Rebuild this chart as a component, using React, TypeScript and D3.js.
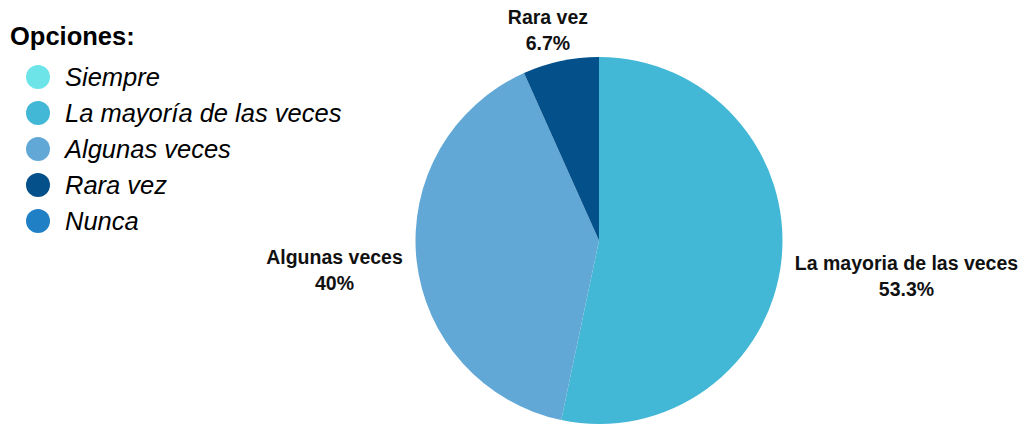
import React from "react";
import * as d3 from "d3";

const categories = ["Siempre", "La mayoría de las veces", "Algunas veces", "Rara vez", "Nunca"];
const labelNames = ["Siempre", "La mayoria de las veces", "Algunas veces", "Rara vez", "Nunca"];
const values = [0, 53.3, 40, 6.7, 0];
const valueLabels = ["0%", "53.3%", "40%", "6.7%", "0%"];
const colors = ["#6de4e8", "#43b7d6", "#62a8d7", "#03508a", "#1f80c5"];

const W = 1027;
const H = 426;
const cx = 599;
const cy = 240.5;
const R = 183.5;

export default function App() {
  const pie = d3.pie<number>().sort(null).value((d) => d);
  const arcs = pie(values);
  const arc = d3.arc<d3.PieArcDatum<number>>().innerRadius(0).outerRadius(R);

  // label positions derived from mid-angle, placed outside the pie
  const labelPos = (i: number) => {
    const a = arcs[i];
    const mid = (a.startAngle + a.endAngle) / 2;
    const sx = Math.sin(mid);
    const cyv = -Math.cos(mid);
    if (i === 3) return { x: cx + R * 1.15 * sx - 7, y: cy + R * 1.15 * cyv - 10 };
    if (i === 1) return { x: cx + R + 124, y: cy + 29.5 };
    if (i === 2) return { x: cx - R - 81, y: cy + 23.5 };
    return { x: cx + R * 1.2 * sx, y: cy + R * 1.2 * cyv };
  };

  return (
    <svg width={W} height={H} style={{ position: "absolute", left: 0, top: 0 }} fontFamily="'Liberation Sans', Arial, sans-serif">
      <g transform={`translate(${cx},${cy})`}>
        {arcs.map((a, i) =>
          a.value > 0 ? <path key={i} d={arc(a) || ""} fill={colors[i]} /> : null
        )}
      </g>
      {arcs.map((a, i) => {
        if (a.value <= 0) return null;
        const p = labelPos(i);
        return (
          <text key={i} x={p.x} y={p.y} textAnchor="middle" fontWeight="bold" fontSize={19.5} fill="#111">
            <tspan x={p.x}>{labelNames[i]}</tspan>
            <tspan x={p.x} dy={25.5}>{valueLabels[i]}</tspan>
          </text>
        );
      })}
      <text x={10} y={45} fontSize={25.5} fontWeight="bold" fill="#000">Opciones:</text>
      {categories.map((c, i) => (
        <g key={c} transform={`translate(38,${77 + i * 36})`}>
          <circle r={12} fill={colors[i]} />
          <text x={27} y={9} fontSize={25.5} fontStyle="italic" fill="#000">{c}</text>
        </g>
      ))}
    </svg>
  );
}
